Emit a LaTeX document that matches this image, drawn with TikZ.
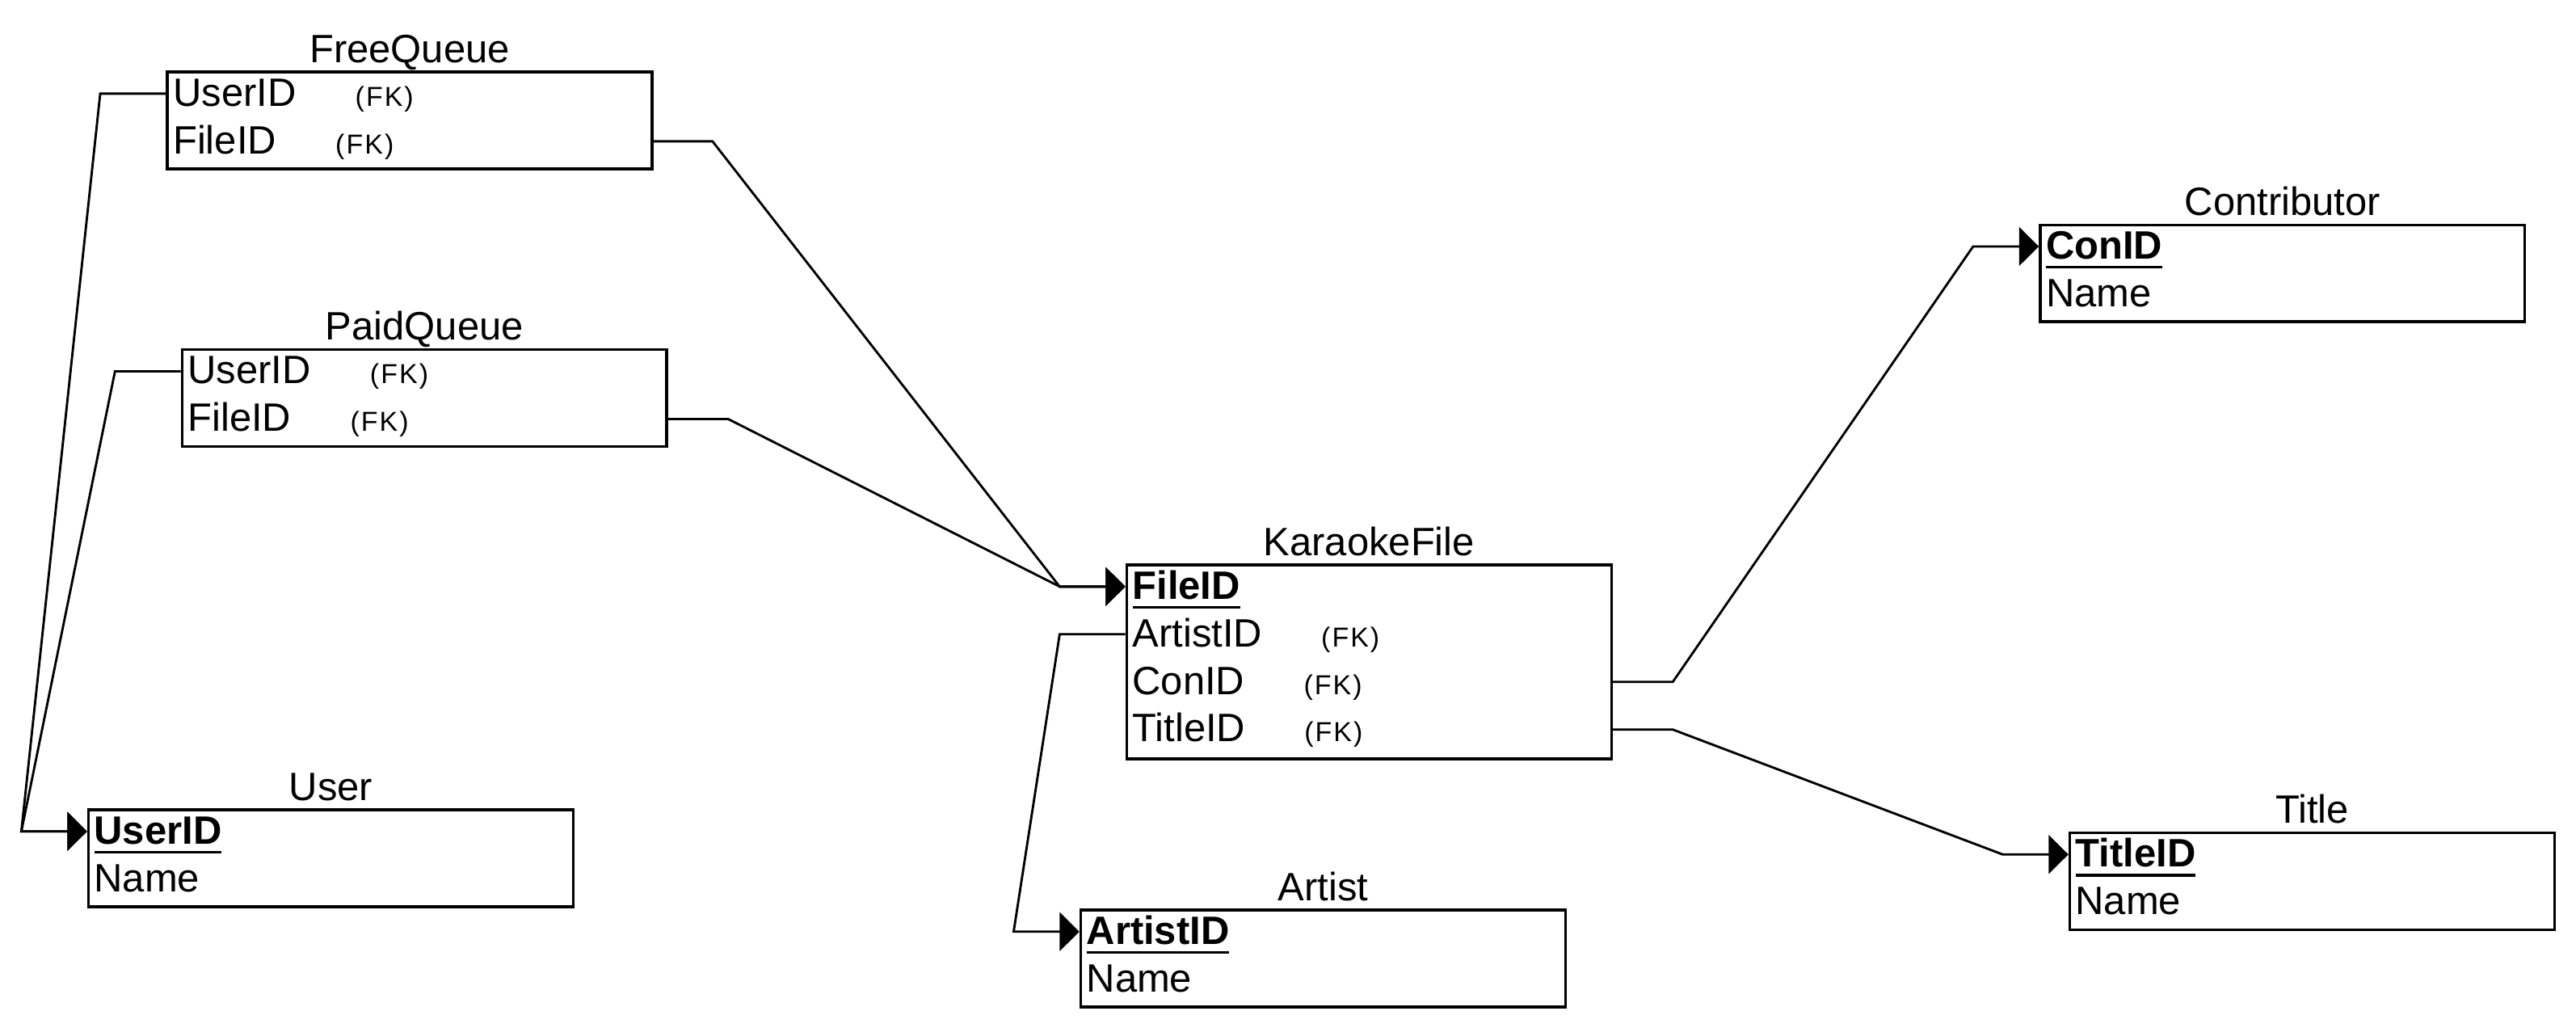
\documentclass[tikz,border=0pt]{standalone}
\usepackage{fontspec}
\setmainfont{Liberation Sans}
\newfontfamily\fkfont[LetterSpace=6]{Liberation Sans}
\usepackage{tikz}
\usetikzlibrary{arrows.meta}

% primary key: bold and underlined
\newcommand\pkname[1]{\setbox0\hbox{\bfseries #1}\rlap{\rule[-0.12cm]{\wd0}{0.036cm}}\box0}
% foreign key tag
\newcommand\fktag{\hspace{0.72cm}{\fkfont\fontsize{9.5pt}{10pt}\selectfont (FK)}}

\tikzset{
    table/.style={draw, line width=0.95pt, minimum width=5.9cm, minimum height=1.18cm, inner sep=0pt, anchor=north west},
    tabletitle/.style={anchor=base, inner sep=0pt, yshift=0.1cm},
    field/.style={anchor=west, inner xsep=0.08cm, inner ysep=0pt, text width=5.74cm, align=left, text height=0.3cm, text depth=0pt},
    link/.style={line width=0.8pt, -{Triangle[length=0.24cm, width=0.47cm]}}
}

\begin{document}
\begin{tikzpicture}[font=\fontsize{13.7pt}{16pt}\selectfont]
    \useasboundingbox (0,0) rectangle (31.36,-12.512);

    % Draw the tables
    \node[table] (fq) at (2.02,-0.86) {};
    \node[table] (pq) at (2.20,-4.24) {};
    \node[table] (usr) at (1.06,-9.84) {};
    \node[table, minimum height=2.36cm] (kf) at (13.70,-6.86) {};
    \node[table] (art) at (13.14,-11.06) {};
    \node[table] (con) at (24.82,-2.72) {};
    \node[table] (ttl) at (25.18,-10.12) {};

    % Table names
    \foreach \t/\name in {fq/FreeQueue, pq/PaidQueue, usr/User, kf/KaraokeFile, art/Artist, con/Contributor, ttl/Title}
        \node[tabletitle] (\t Name) at (\t.north) {\name};

    % Fields
    \node[field] (fqUser) at ([yshift=-0.28cm]fq.north west) {UserID\fktag};
    \node[field] (fqFile) at ([yshift=-0.86cm]fq.north west) {FileID\fktag};
    \node[field] (pqUser) at ([yshift=-0.28cm]pq.north west) {UserID\fktag};
    \node[field] (pqFile) at ([yshift=-0.86cm]pq.north west) {FileID\fktag};
    \node[field] (usrKey) at ([yshift=-0.28cm]usr.north west) {\pkname{UserID}};
    \node[field] (usrName) at ([yshift=-0.86cm]usr.north west) {Name};
    \node[field] (kfKey) at ([yshift=-0.28cm]kf.north west) {\pkname{FileID}};
    \node[field] (kfArtist) at ([yshift=-0.86cm]kf.north west) {ArtistID\fktag};
    \node[field] (kfCon) at ([yshift=-1.44cm]kf.north west) {ConID\fktag};
    \node[field] (kfTitle) at ([yshift=-2.02cm]kf.north west) {TitleID\fktag};
    \node[field] (artKey) at ([yshift=-0.28cm]art.north west) {\pkname{ArtistID}};
    \node[field] (artName) at ([yshift=-0.86cm]art.north west) {Name};
    \node[field] (conKey) at ([yshift=-0.28cm]con.north west) {\pkname{ConID}};
    \node[field] (conName) at ([yshift=-0.86cm]con.north west) {Name};
    \node[field] (ttlKey) at ([yshift=-0.28cm]ttl.north west) {\pkname{TitleID}};
    \node[field] (ttlName) at ([yshift=-0.86cm]ttl.north west) {Name};

    % Connect the foreign keys to the keys
    \draw[link] (fqUser.west) -- ++(-0.8,0) -- ([xshift=-0.8cm]usrKey.west) -- (usrKey.west);
    \draw[link] (pqUser.west) -- ++(-0.8,0) -- ([xshift=-0.8cm]usrKey.west) -- (usrKey.west);
    \draw[link] (fqFile.east) -- ++(0.74,0) -- ([xshift=-0.8cm]kfKey.west) -- (kfKey.west);
    \draw[link] (pqFile.east) -- ++(0.75,0) -- ([xshift=-0.8cm]kfKey.west) -- (kfKey.west);
    \draw[link] (kfArtist.west) -- ++(-0.8,0) -- ([xshift=-0.8cm]artKey.west) -- (artKey.west);
    \draw[link] (kfCon.east) -- ++(0.75,0) -- ([xshift=-0.8cm]conKey.west) -- (conKey.west);
    \draw[link] (kfTitle.east) -- ++(0.75,0) -- ([xshift=-0.8cm]ttlKey.west) -- (ttlKey.west);
\end{tikzpicture}
\end{document}
